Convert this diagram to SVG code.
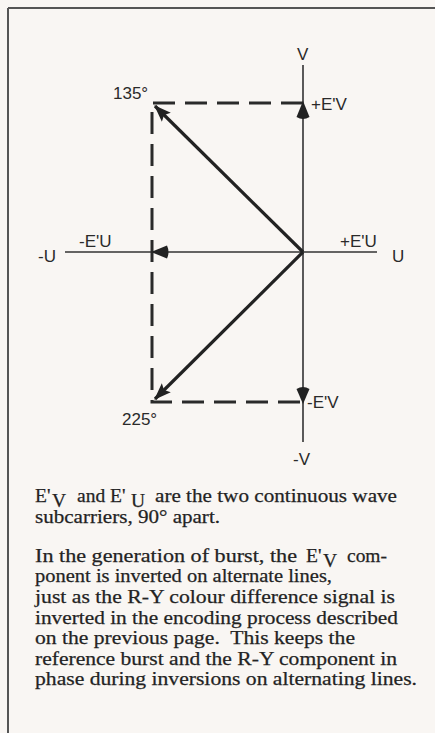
<svg xmlns="http://www.w3.org/2000/svg" width="435" height="733" viewBox="0 0 435 733">
<defs>
<style>
.lbl{font-family:"Liberation Sans",Arial,sans-serif;font-size:17px;fill:#2a2a2a}
.body{font-family:"Liberation Serif","Times New Roman",serif;font-size:19.5px;fill:#232323;stroke:#232323;stroke-width:0.25}
.axis{stroke:#333;stroke-width:1.6;fill:none}
.dash{stroke:#2a2a2a;stroke-width:3;stroke-dasharray:22 10;fill:none}
.vec{stroke:#222;stroke-width:3.2;fill:none}
.head{fill:#222;stroke:none}
</style>
<marker id="ah" viewBox="0 0 16 12" refX="15" refY="6" markerUnits="userSpaceOnUse" markerWidth="17" markerHeight="13" orient="auto">
<path d="M0,0 L16,6 L0,12 L3,6 Z" class="head"/>
</marker>
</defs>
<rect width="435" height="733" fill="#f9f6f3"/>
<g id="frame">
<line x1="8" y1="8" x2="435" y2="8" stroke="#555" stroke-width="2"/>
<line x1="8" y1="8" x2="8" y2="733" stroke="#555" stroke-width="2"/>
</g>
<g id="connectors">
<line class="axis" x1="303" y1="65" x2="303" y2="442"/>
<line class="axis" x1="65" y1="252" x2="377" y2="252"/>
<path class="dash" d="M303,103 H152 V402 H303"/>
<line class="vec" x1="303" y1="252" x2="155" y2="106" marker-end="url(#ah)"/>
<line class="vec" x1="303" y1="252" x2="155" y2="399" marker-end="url(#ah)"/>
<path class="head" d="M303,101 L309.5,117 Q303,121 296.5,117 Z"/>
<path class="head" d="M303,404 L309.5,389 Q303,385 296.5,389 Z"/>
<path class="head" d="M151,252 L167,245.5 Q170,252 167,258.5 Z"/>
</g>
<g id="node-v"><text class="lbl" x="297" y="60">V</text></g>
<g id="node-minus-v"><text class="lbl" x="293" y="465">-V</text></g>
<g id="node-u"><text class="lbl" x="392" y="262">U</text></g>
<g id="node-minus-u"><text class="lbl" x="38" y="262">-U</text></g>
<g id="node-135"><text class="lbl" x="113" y="99">135°</text></g>
<g id="node-225"><text class="lbl" x="122" y="425">225°</text></g>
<g id="node-plus-ev"><text class="lbl" x="311" y="110">+E'V</text></g>
<g id="node-minus-ev"><text class="lbl" x="307" y="408">-E'V</text></g>
<g id="node-plus-eu"><text class="lbl" x="340" y="247">+E'U</text></g>
<g id="node-minus-eu"><text class="lbl" x="79" y="247">-E'U</text></g>
<g id="caption">
<text class="body" x="35" y="502">E'</text>
<text class="body" x="52" y="507">V</text>
<text class="body" x="77" y="502">and E'</text>
<text class="body" x="131" y="507">U</text>
<text class="body" x="155" y="502" textLength="242" lengthAdjust="spacingAndGlyphs">are the two continuous wave</text>
<text class="body" x="35" y="523" textLength="185" lengthAdjust="spacingAndGlyphs">subcarriers, 90° apart.</text>
<text class="body" x="35" y="562" textLength="262" lengthAdjust="spacingAndGlyphs">In the generation of burst, the</text>
<text class="body" x="306" y="562">E'</text>
<text class="body" x="323" y="567">V</text>
<text class="body" x="347" y="562" textLength="40" lengthAdjust="spacingAndGlyphs">com-</text>
<text class="body" x="35" y="582" textLength="297" lengthAdjust="spacingAndGlyphs">ponent is inverted on alternate lines,</text>
<text class="body" x="35" y="603" textLength="360" lengthAdjust="spacingAndGlyphs">just as the R-Y colour difference signal is</text>
<text class="body" x="35" y="624" textLength="363" lengthAdjust="spacingAndGlyphs">inverted in the encoding process described</text>
<text class="body" x="35" y="644" textLength="320" lengthAdjust="spacingAndGlyphs" xml:space="preserve">on the previous page.  This keeps the</text>
<text class="body" x="35" y="665" textLength="362" lengthAdjust="spacingAndGlyphs">reference burst and the R-Y component in</text>
<text class="body" x="35" y="685" textLength="382" lengthAdjust="spacingAndGlyphs">phase during inversions on alternating lines.</text>
</g>
</svg>
